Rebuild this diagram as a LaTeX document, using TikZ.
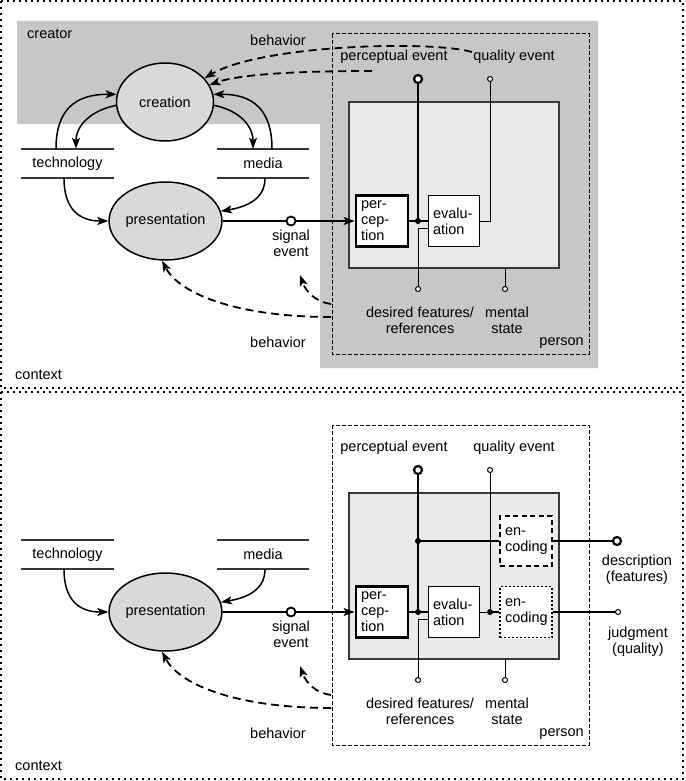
\documentclass[tikz,border=0pt]{standalone}
\usepackage{fontspec}
\setmainfont{Liberation Sans}
\usetikzlibrary{shapes.geometric,arrows.meta}
\definecolor{creatorgray}{RGB}{199,199,199}
\definecolor{ellgray}{RGB}{217,217,217}
\definecolor{innergray}{RGB}{233,233,233}
\definecolor{linegray}{RGB}{55,55,55}
\tikzset{
  lbl/.style={align=center, inner sep=0pt},
  ell/.style={ellipse, draw, line width=1.5pt, fill=ellgray, minimum width=97pt, minimum height=78pt, inner sep=0pt},
  shelf/.style={minimum width=93pt, minimum height=29pt, inner sep=0pt},
  shelfline/.style={draw=linegray, line width=1.5pt},
  procbox/.style={draw, fill=white, minimum height=51pt, text width=42pt, inner xsep=5pt, inner ysep=0pt, align=left, line width=1pt},
  conn/.style={line width=1.5pt},
  thinl/.style={line width=1pt},
  thickl/.style={line width=2.8pt},
  tip/.style={-{Stealth[length=11pt,width=8pt,inset=2.5pt]}},
  beh/.style={dash pattern=on 8pt off 5pt, line width=1.8pt, tip},
  panelline/.style={line width=2pt, dash pattern=on 2pt off 4pt},
  persondash/.style={line width=1pt, dash pattern=on 4pt off 2pt},
  opendot/.style={circle, draw, fill=white, inner sep=0pt},
  bigdot/.style={opendot, minimum size=8pt, line width=2.2pt},
  smalldot/.style={opendot, minimum size=5pt, line width=1pt},
  joint/.style={circle, fill=black, inner sep=0pt, minimum size=6pt},
}
\newcommand\panelcore[2]{%
\begin{scope}[shift={(0,#2)}]
  \draw[panelline] (1,1) rectangle (683,388);
  \draw[persondash] (332,34) rectangle (589,354);
  \node[draw=linegray, line width=1.2pt, fill=innergray, minimum width=210pt, minimum height=166pt, inner sep=0pt] (inner#1) at (454,185) {};
  % shelves
  \node[shelf] (tech#1) at (67.5,163.5) {technology};
  \draw[shelfline] (tech#1.north west) -- (tech#1.north east);
  \draw[shelfline] (tech#1.south west) -- (tech#1.south east);
  \node[shelf, minimum width=92pt] (media#1) at (263,163.5) {media};
  \draw[shelfline] (media#1.north west) -- (media#1.north east);
  \draw[shelfline] (media#1.south west) -- (media#1.south east);
  % presentation
  \node[ell] (pres#1) at (165.5,221) {presentation};
  \draw[conn,tip] ([xshift=-3.5pt]tech#1.south) .. controls (64,210) and (80,221) .. (pres#1.west);
  \draw[conn,tip] ([xshift=2pt]media#1.south) .. controls (265,200) and (245,207) .. (pres#1.10);
  % boxes
  \node[procbox, line width=2.8pt] (per#1) at (382,221) {per-\\cep-\\tion};
  \node[procbox, text width=41pt] (eval#1) at (453.5,221) {evalu-\\ation};
  % signal
  \node[opendot, minimum size=9pt, line width=1.8pt] (sig#1) at (291,221) {};
  \draw[conn] (pres#1.east) -- (sig#1.west);
  \draw[conn,tip] (sig#1.east) -- (per#1.west);
  \node[lbl] (sigl#1) at (291,243) {signal\\event};
  % events
  \node[smalldot] (qe#1) at (490,79) {};
  \draw[thinl] (qe#1.south) |- (eval#1.east);
  \node[bigdot] (pe#1) at (418,79) {};
  \node[joint] (j#1) at (418,221) {};
  \draw[thickl] (pe#1.south) -- (j#1.center);
  \draw[thickl] (per#1.east) -- (j#1.center);
  \draw[conn] (j#1.center) -- (eval#1.west);
  \node[smalldot] (df#1) at (418,289) {};
  \coordinate (dfc#1) at (418,228.5);
  \draw[thinl] (df#1.north) -- (dfc#1) -- (dfc#1 -| eval#1.west);
  \node[smalldot] (ms#1) at (505,289) {};
  \draw[thinl] (ms#1.north) -- (ms#1 |- inner#1.south);
  \node[lbl] (pel#1) at (394,57) {perceptual event};
  \node[lbl] (qel#1) at (514,57) {quality event};
  \node[lbl] (dfl#1) at (420,320) {desired features/\\references};
  \node[lbl] (msl#1) at (507,320) {mental\\state};
  \node[lbl, anchor=east] (pl#1) at (584,343) {person};
  \node[lbl] (bl#1) at (278,342) {behavior};
  \node[lbl, anchor=west] (cl#1) at (15,375) {context};
  % lower behavior
  \coordinate (bA#1) at (331,304);
  \coordinate (bAe#1) at (300,275);
  \draw[beh] (bA#1) .. controls (316,302) and (306,292) .. (bAe#1);
  \coordinate (bB#1) at (331,317);
  \draw[beh] (bB#1) .. controls (240,317) and (180,295) .. (pres#1.265);
\end{scope}}
\begin{document}
\begin{tikzpicture}[x=1pt, y=-1pt, font=\fontsize{14.5}{16}\selectfont]
\useasboundingbox (0,0) rectangle (685,781);
\fill[white] (0,0) rectangle (685,781);
% ---------- top panel ----------
\fill[creatorgray] (17,21) -- (598,21) -- (598,368) -- (320,368) -- (320,124) -- (17,124) -- cycle;
\panelcore{a}{0}
\node[lbl, anchor=west] (crl) at (27,34) {creator};
\node[lbl] (btl) at (278,40) {behavior};
\node[ell] (creation) at (165,102) {creation};
\draw[conn,tip] ([xshift=-11.5pt]techa.north) .. controls (56,110) and (75,94) .. (creation.171);
\draw[conn,tip] (creation.184) .. controls (92,110) and (76,125) .. ([xshift=8.5pt]techa.north);
\draw[conn,tip] (creation.356) .. controls (238,110) and (253,125) .. ([xshift=-10pt]mediaa.north);
\draw[conn,tip] ([xshift=9pt]mediaa.north) .. controls (272,110) and (253,94) .. (creation.9);
\coordinate (bt1) at (472,52);
\coordinate (bt2) at (372,71);
\draw[beh] (bt1) .. controls (430,40) and (260,45) .. (creation.31);
\draw[beh] (bt2) .. controls (300,71) and (240,74) .. (creation.21);
% ---------- bottom panel ----------
\panelcore{b}{391}
\begin{scope}[shift={(0,391)}]
  \node[procbox, fill=white, line width=2.8pt, dash pattern=on 5pt off 3.5pt, minimum height=50pt] (enc1) at (526,150) {en-\\coding};
  \node[procbox, fill=white, line width=1.2pt, dash pattern=on 2pt off 2pt] (enc2) at (526,221) {en-\\coding};
  \node[joint] (jq) at (490,221) {};
  \draw[conn] (jq.center) -- (enc2.west);
  \node[smalldot] (jud) at (618,221) {};
  \draw[conn] (enc2.east) -- (jud.west);
  \node[joint] (j2) at (418,150) {};
  \draw[thickl] (j2.center) -- (enc1.west);
  \node[bigdot] (desc) at (617,150) {};
  \draw[thickl] (enc1.east) -- (desc.west);
  \node[lbl] (descl) at (637,178.5) {description\\(features)};
  \node[lbl] (judl) at (638,250.5) {judgment\\(quality)};
\end{scope}
\end{tikzpicture}
\end{document}
